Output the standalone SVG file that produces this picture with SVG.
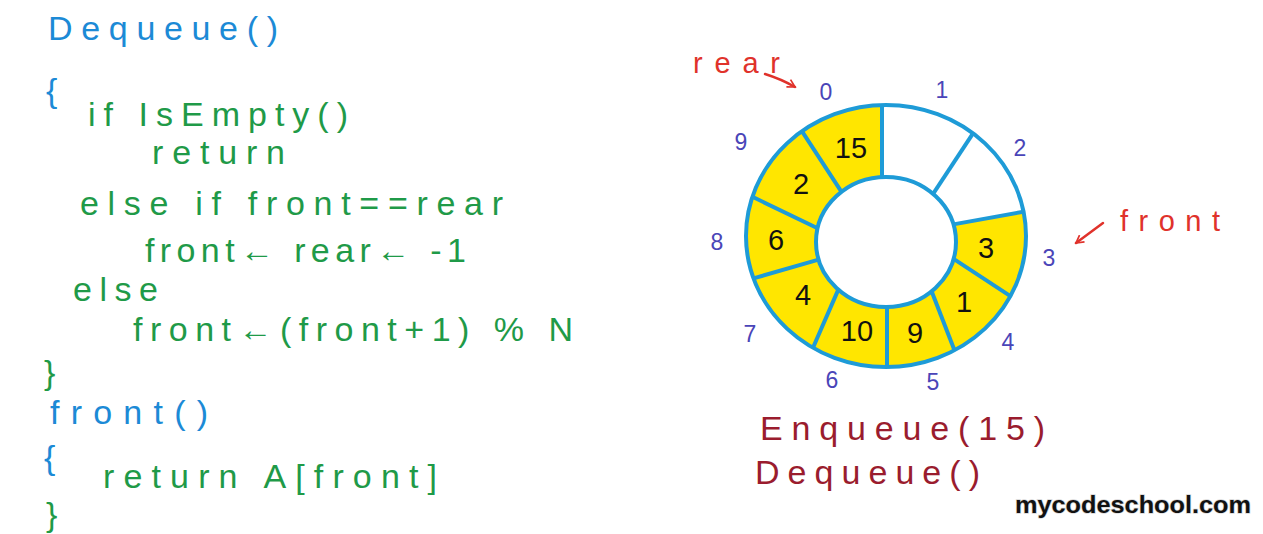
<svg xmlns="http://www.w3.org/2000/svg" width="1263" height="534" viewBox="0 0 1263 534">
<defs>
<style>
.code{font-family:"Liberation Sans",Arial,sans-serif;font-size:34px;fill:#1f9a48;}
.fn{font-family:"Liberation Sans",Arial,sans-serif;font-size:34px;fill:#1c8ad6;}
.idx{font-family:"Liberation Sans",Arial,sans-serif;font-size:23px;fill:#4a45b8;text-anchor:middle;}
.val{font-family:"Liberation Sans",Arial,sans-serif;font-size:29px;fill:#111;text-anchor:middle;}
.red{font-family:"Liberation Sans",Arial,sans-serif;font-size:29px;fill:#e0322b;}
.ops{font-family:"Liberation Sans",Arial,sans-serif;font-size:34px;fill:#9a1c2e;}
.ring{fill:none;stroke:#1e9bd7;stroke-width:4;}
.arr{fill:none;stroke:#e0322b;stroke-width:2.5;stroke-linecap:round;stroke-linejoin:round;}
</style>
<marker id="ah" viewBox="0 0 12 12" refX="10" refY="6" markerWidth="10" markerHeight="10" orient="auto" markerUnits="userSpaceOnUse">
<path d="M1,1 L10,6 L1,11" fill="none" stroke="#e0322b" stroke-width="2"/>
</marker>
</defs>
<rect width="1263" height="534" fill="#ffffff"/>

<g id="code">
<text class="fn" x="48" y="40" textLength="230" lengthAdjust="spacing">Dequeue()</text>
<text class="fn" x="46" y="102">{</text>
<text class="code" x="88" y="126" textLength="260" lengthAdjust="spacing">if IsEmpty()</text>
<text class="code" x="152" y="164" textLength="133" lengthAdjust="spacing">return</text>
<text class="code" x="80" y="215" textLength="423" lengthAdjust="spacing">else if  front==rear</text>
<text class="code" x="145" y="262" textLength="321" lengthAdjust="spacing">front← rear← -1</text>
<text class="code" x="73" y="301" textLength="85" lengthAdjust="spacing">else</text>
<text class="code" x="133" y="341" textLength="440" lengthAdjust="spacing">front←(front+1) % N</text>
<text class="code" x="44" y="384">}</text>
<text class="fn" x="50" y="424" textLength="158" lengthAdjust="spacing">front()</text>
<text class="fn" x="44" y="469">{</text>
<text class="code" x="103" y="488" textLength="334" lengthAdjust="spacing">return  A[front]</text>
<text class="code" x="46" y="526">}</text>
</g>

<g id="ring">
<ellipse cx="886" cy="236" rx="140" ry="131" fill="#ffe600"/>
<path d="M882,105 A140,131 0 0 1 1023.6,211.7 L953.4,224.4 A70,65 0 0 0 882,177 Z" fill="#ffffff"/>
<ellipse cx="886" cy="242" rx="70" ry="65" fill="#ffffff" stroke="#1e9bd7" stroke-width="4"/>
<ellipse cx="886" cy="236" rx="140" ry="131" class="ring"/>
<g class="ring">
<line x1="882" y1="105" x2="882" y2="177"/>
<line x1="973" y1="133.3" x2="933.1" y2="193.9"/>
<line x1="1023.6" y1="211.7" x2="953.4" y2="224.4"/>
<line x1="1010.4" y1="296.1" x2="953.6" y2="258.8"/>
<line x1="954" y1="349" x2="931.6" y2="291.3"/>
<line x1="887" y1="367" x2="887" y2="307"/>
<line x1="813" y1="347.8" x2="838.3" y2="289.6"/>
<line x1="753.5" y1="278.4" x2="818.6" y2="259.6"/>
<line x1="752.4" y1="196.8" x2="817.6" y2="228.2"/>
<line x1="801.9" y1="131.2" x2="841.5" y2="191.8"/>
</g>
</g>

<g id="values">
<text class="val" x="851" y="158">15</text>
<text class="val" x="801" y="194">2</text>
<text class="val" x="776" y="250">6</text>
<text class="val" x="803" y="305">4</text>
<text class="val" x="857" y="341">10</text>
<text class="val" x="915" y="343">9</text>
<text class="val" x="964" y="312">1</text>
<text class="val" x="986" y="258">3</text>
</g>

<g id="indices">
<text class="idx" x="826" y="100">0</text>
<text class="idx" x="942" y="98">1</text>
<text class="idx" x="1020" y="156">2</text>
<text class="idx" x="1049" y="266">3</text>
<text class="idx" x="1008" y="350">4</text>
<text class="idx" x="933" y="390">5</text>
<text class="idx" x="832" y="388">6</text>
<text class="idx" x="750" y="342">7</text>
<text class="idx" x="717" y="250">8</text>
<text class="idx" x="741" y="150">9</text>
</g>

<g id="rear-label">
<text class="red" x="693" y="73" textLength="87" lengthAdjust="spacing">rear</text>
</g>
<g id="front-label">
<text class="red" x="1120" y="231" textLength="100" lengthAdjust="spacing">front</text>
</g>
<g id="connectors">
<path class="arr" d="M765,74 Q781,79 795,87" marker-end="url(#ah)"/>
<path class="arr" d="M1103,223 L1076,243" marker-end="url(#ah)"/>
</g>

<g id="ops">
<text class="ops" x="760" y="440" textLength="285" lengthAdjust="spacing">Enqueue(15)</text>
<text class="ops" x="755" y="484" textLength="225" lengthAdjust="spacing">Dequeue()</text>
</g>

<g id="brand">
<text x="1015" y="513" font-family="'Liberation Sans',Arial,sans-serif" font-weight="bold" font-size="24" fill="#111" stroke="#888" stroke-opacity="0.35" stroke-width="1.5" paint-order="stroke" textLength="236" lengthAdjust="spacingAndGlyphs">mycodeschool.com</text>
</g>
</svg>
